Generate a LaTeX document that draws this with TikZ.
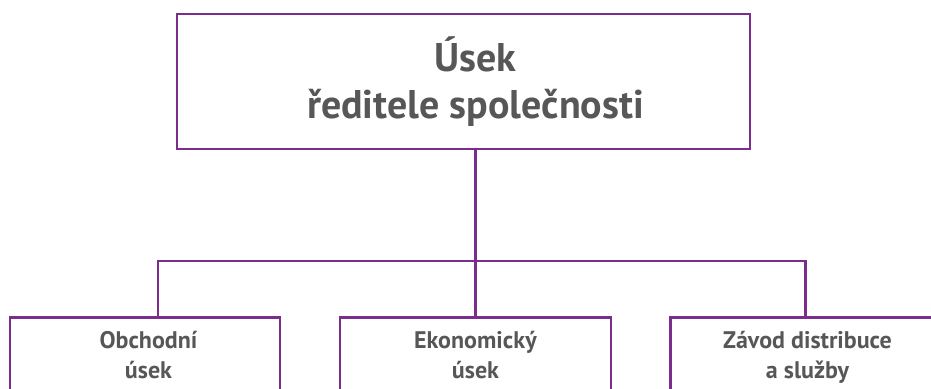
\documentclass[tikz,border=0pt]{standalone}
\usepackage{fontspec}
\setmainfont{PT Sans}
\usepackage{xcolor}
\usetikzlibrary{positioning, calc}
\definecolor{orgline}{HTML}{7B2D8E}
\definecolor{orgtext}{HTML}{575757}
\tikzset{
    unitbox/.style={rectangle, draw=orgline, line width=2.5pt, minimum height=110pt, inner sep=0pt},
    unittext/.style={text=orgtext, font=\bfseries\fontsize{24}{30}\selectfont, align=center, anchor=north, inner sep=0pt},
    link/.style={draw=orgline, line width=2.5pt}
}
\begin{document}
\begin{tikzpicture}[x=1pt, y=-1pt]
    \useasboundingbox (0,0) rectangle (931,388);
    \clip (0,0) rectangle (931,388);

    % TOP: HEAD OFFICE
    \node (Head) [rectangle, draw=orgline, line width=2.5pt, minimum width=573pt, minimum height=135pt] at (463.5,81.5) {};
    \node (HeadText) [text=orgtext, font=\bfseries\fontsize{40}{47}\selectfont, align=center, inner sep=0pt]
        at ($(Head.center)+(12,0)$) {Úsek\\ředitele společnosti};

    % BOTTOM: DIVISIONS
    \node (Sales) [unitbox, minimum width=270pt, anchor=north] at (145,316) {};
    \node (Economy) [unitbox, minimum width=271pt, anchor=north] at (475.5,316) {};
    \node (Plant) [unitbox, minimum width=270pt, anchor=north] at (805.5,316) {};
    \node (SalesText) [unittext] at ($(Sales.north)+(3.5,15)$) {Obchodní\\úsek};
    \node (EconomyText) [unittext] at ($(Economy.north)+(0,15)$) {Ekonomický\\úsek};
    \node (PlantText) [unittext] at ($(Plant.north)+(2,15)$) {Závod distribuce\\a služby};

    % CONNECTORS
    \coordinate (Bus) at (475.5,261);
    \draw[link] (Head.south -| Economy.north) -- (Economy.north);
    \draw[link] ([xshift=13pt]Sales.north) |- (Bus) -| (Plant.north);
\end{tikzpicture}
\end{document}
